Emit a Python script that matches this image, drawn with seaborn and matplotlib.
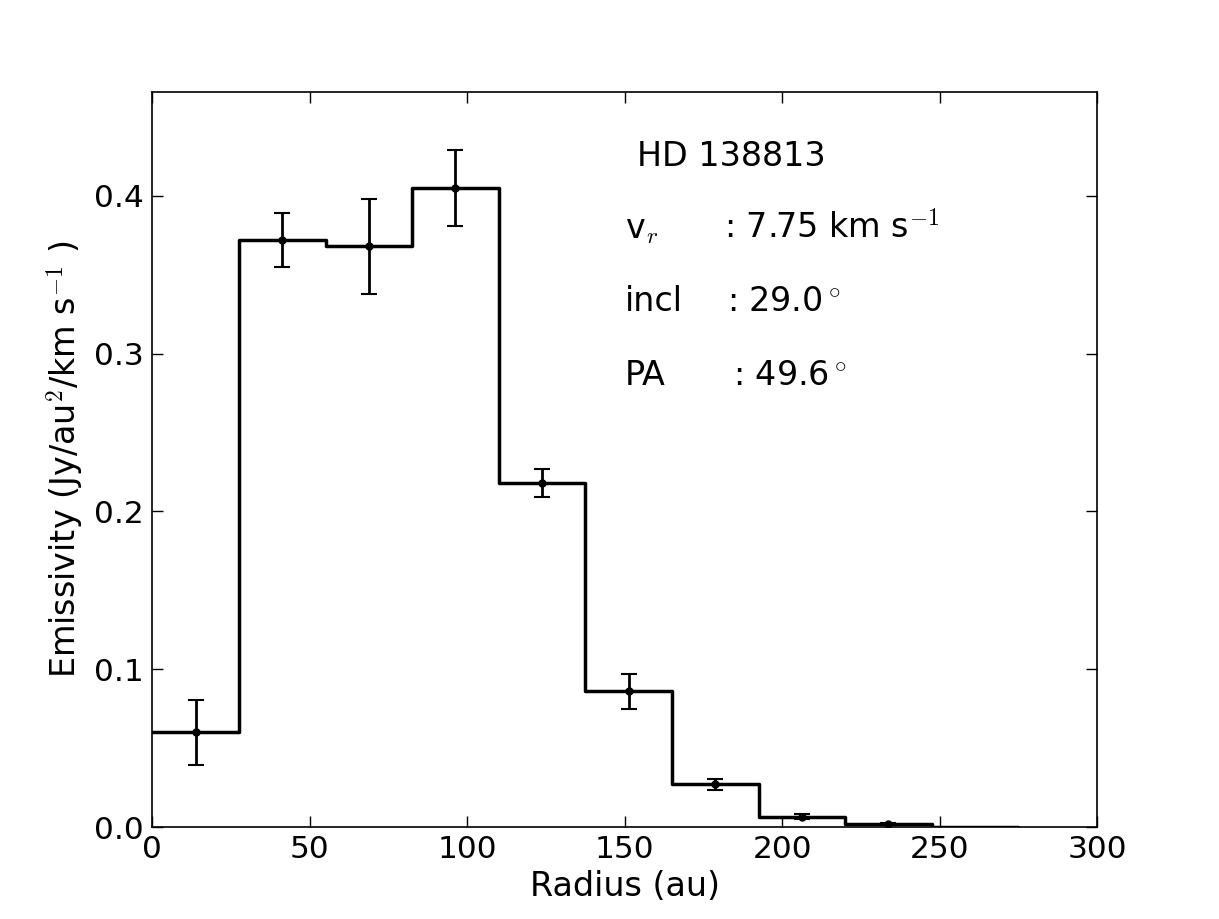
import matplotlib
matplotlib.use("Agg")
import matplotlib.pyplot as plt
import seaborn as sns
import pandas as pd
import numpy as np

# Radial emissivity profile
bin_edges = [0, 27.5, 55, 82.5, 110, 137.5, 165, 192.5, 220, 247.5, 275]
radius = [13.75, 41.25, 68.75, 96.25, 123.75, 151.25, 178.75, 206.25, 233.75, 261.25]
emissivity = [0.060, 0.372, 0.368, 0.405, 0.218, 0.086, 0.027, 0.0065, 0.0018, 0.0003]
emis_err = [0.0205, 0.017, 0.030, 0.024, 0.0088, 0.011, 0.0036, 0.0015, 0.0006, 0.0002]

df = pd.DataFrame({"radius": radius, "emissivity": emissivity, "err": emis_err})

sns.set_style("ticks")
plt.rcParams["font.family"] = ["DejaVu Sans"]
plt.rcParams["mathtext.fontset"] = "cm"
plt.rcParams["text.color"] = "black"
plt.rcParams["axes.labelcolor"] = "black"
plt.rcParams["xtick.color"] = "black"
plt.rcParams["ytick.color"] = "black"

fig = plt.figure(figsize=(12.19, 9.19), dpi=100)
ax = fig.add_axes([0.125, 0.1, 0.775, 0.8])

# step profile
sns.histplot(data=df, x="radius", weights="emissivity", bins=bin_edges,
             element="step", fill=False, color="black", linewidth=2.5, ax=ax)

# error bars at bin centres (outermost bin has no visible point)
pts = df.iloc[:9]
ax.errorbar(pts["radius"], pts["emissivity"], yerr=pts["err"], fmt="o",
            color="black", markersize=5, elinewidth=2, capsize=6, capthick=1.5)

ax.set_xlim(0, 300)
ax.set_ylim(0, 0.4658)
ax.set_xticks([0, 50, 100, 150, 200, 250, 300])
ax.set_yticks([0.0, 0.1, 0.2, 0.3, 0.4])
ax.tick_params(direction="in", top=True, right=True, length=8, width=1,
               labelsize=22.5, pad=6)
for s in ax.spines.values():
    s.set_linewidth(1.2)
    s.set_color("black")

ax.set_xlabel("Radius (au)", fontsize=24, labelpad=4)
ax.set_ylabel(r"Emissivity (Jy/au$^2$/km s$^{-1}$ )", fontsize=24, labelpad=6)

txt_kw = dict(fontsize=24, color="black", ha="left", va="baseline")
ax.text(154, 0.419, "HD 138813", **txt_kw)
ax.text(150, 0.373, r"v$_r$", **txt_kw)
ax.text(181.5, 0.373, r": 7.75 km s$^{-1}$", **txt_kw)
ax.text(150, 0.327, "incl", **txt_kw)
ax.text(182.5, 0.327, r": 29.0$^\circ$", **txt_kw)
ax.text(150, 0.280, "PA", **txt_kw)
ax.text(184.5, 0.280, r": 49.6$^\circ$", **txt_kw)

fig.savefig("out.png", dpi=100)
